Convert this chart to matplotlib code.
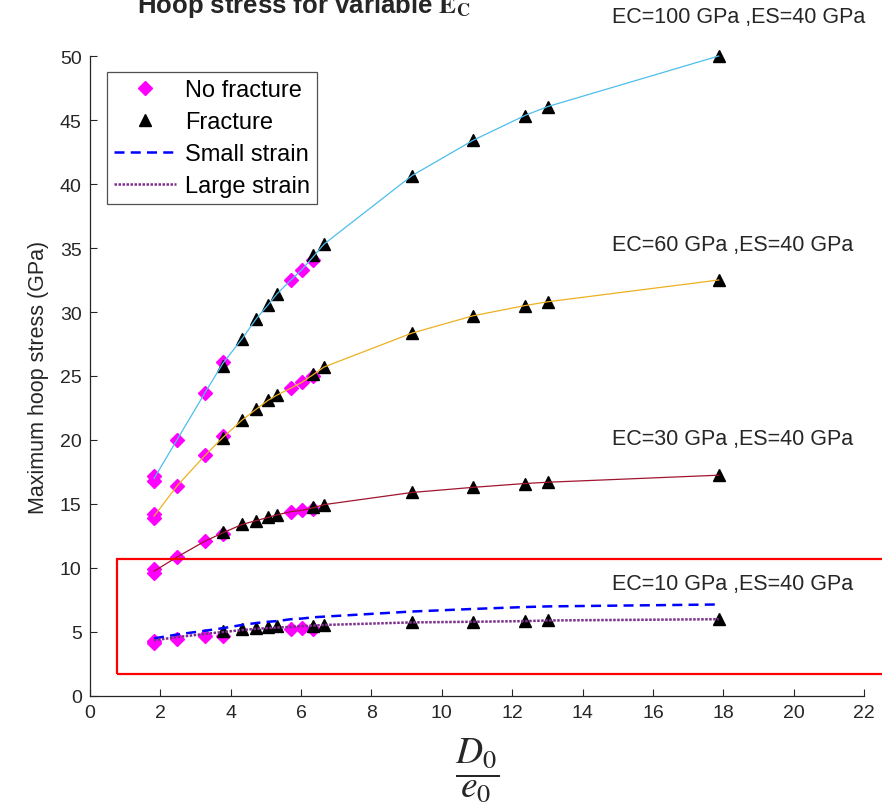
import numpy as np
import matplotlib
matplotlib.use("Agg")
import matplotlib.pyplot as plt
from matplotlib.patches import Rectangle

plt.rcParams['font.family'] = ['Liberation Sans', 'DejaVu Sans']
plt.rcParams['mathtext.fontset'] = 'stix'

# D0/e0 values of the curves
xs = [1.82, 2.47, 3.27, 3.78, 4.32, 4.72, 5.06, 5.31, 5.71, 6.02, 6.34, 6.65,
      9.15, 10.88, 12.36, 13.01, 17.87]
# x positions of the markers
nf_x = [1.82, 1.82, 2.47, 3.27, 3.78, 5.71, 6.02, 6.34]
fr_x = [3.78, 4.32, 4.72, 5.06, 5.31, 6.34, 6.65, 9.15, 10.88, 12.36, 13.01, 17.87]

# EC = 100 GPa
ec100_line = [17.0, 20.0, 23.7, 26.0, 27.9, 29.45, 30.55, 31.4, 32.5, 33.3, 34.3, 35.3,
              40.65, 43.4, 45.35, 46.05, 50.0]
ec100_nf = [16.8, 17.2, 20.0, 23.7, 26.1, 32.5, 33.3, 34.1]
ec100_fr = [25.8, 27.9, 29.45, 30.55, 31.4, 34.45, 35.3, 40.65, 43.4, 45.35, 46.05, 50.0]

# EC = 60 GPa
ec60_line = [14.05, 16.4, 18.8, 20.2, 21.55, 22.4, 23.1, 23.5, 24.05, 24.5, 25.1, 25.7,
             28.35, 29.7, 30.5, 30.8, 32.5]
ec60_nf = [13.9, 14.2, 16.4, 18.8, 20.3, 24.05, 24.5, 25.0]
ec60_fr = [20.15, 21.55, 22.4, 23.1, 23.5, 25.15, 25.7, 28.35, 29.7, 30.5, 30.8, 32.5]

# EC = 30 GPa
ec30_line = [9.75, 10.85, 12.1, 12.75, 13.4, 13.7, 13.95, 14.15, 14.4, 14.5, 14.7, 14.95,
             15.9, 16.3, 16.6, 16.7, 17.25]
ec30_nf = [9.6, 9.9, 10.85, 12.1, 12.65, 14.4, 14.5, 14.6]
ec30_fr = [12.8, 13.4, 13.7, 13.95, 14.15, 14.8, 14.95, 15.9, 16.3, 16.6, 16.7, 17.25]

# EC = 10 GPa (small / large strain)
ec10_small = [4.5, 4.8, 5.1, 5.3, 5.55, 5.7, 5.8, 5.85, 6.0, 6.05, 6.15, 6.2,
              6.6, 6.8, 6.95, 7.0, 7.15]
ec10_large = [4.35, 4.6, 4.85, 5.0, 5.15, 5.25, 5.3, 5.35, 5.4, 5.45, 5.5, 5.55,
              5.75, 5.8, 5.85, 5.9, 6.0]
ec10_nf = [4.15, 4.3, 4.45, 4.65, 4.65, 5.2, 5.3, 5.2]
ec10_fr = [5.05, 5.2, 5.35, 5.4, 5.45, 5.5, 5.55, 5.75, 5.8, 5.85, 5.9, 6.05]

labels = ["EC=100 GPa ,ES=40 GPa", "EC=60 GPa ,ES=40 GPa",
          "EC=30 GPa ,ES=40 GPa", "EC=10 GPa ,ES=40 GPa"]
label_y = [53.1, 35.3, 20.1, 8.75]

dark = '#262626'
fig = plt.figure(figsize=(8.82, 8.12), dpi=100)
ax = fig.add_axes([90/882, 1-697/812, 774/882, 640/812])

nf_kw = dict(ls='none', marker='D', ms=7, color='#ff00ff', mec='#ff00ff', clip_on=False, zorder=3)
fr_kw = dict(ls='none', marker='^', ms=9, color='black', clip_on=False, zorder=4)

for nf, fr in [(ec100_nf, ec100_fr), (ec60_nf, ec60_fr), (ec30_nf, ec30_fr), (ec10_nf, ec10_fr)]:
    ax.plot(nf_x, nf, **nf_kw)
    ax.plot(fr_x, fr, **fr_kw)

ax.plot(xs, ec100_line, color='#4dbeee', lw=0.9, zorder=5, clip_on=False)
ax.plot(xs, ec60_line, color='#edb120', lw=0.9, zorder=5)
ax.plot(xs, ec30_line, color='#a2142f', lw=0.9, zorder=5)
ax.plot(xs, ec10_small, color='#0000ff', ls=(0, (4, 2.5)), lw=1.8, zorder=5)
ax.plot(xs, ec10_large, color='#7e2f8e', ls=(0, (1, 0.6)), lw=1.8, zorder=5)

for t, y in zip(labels, label_y):
    ax.text(14.83, y, t, fontsize=15.5, color=dark, va='center', ha='left', clip_on=False)

rect = Rectangle((0.78, 1.7), 22.5, 9.0, fill=False, ec='red', lw=1.6, clip_on=False, zorder=6)
ax.add_patch(rect)

# legend proxies
h1, = ax.plot([], [], ls='none', marker='D', ms=7, color='#ff00ff')
h2, = ax.plot([], [], ls='none', marker='^', ms=9, color='black')
h3, = ax.plot([], [], color='#0000ff', ls=(0, (4, 2.5)), lw=1.8)
h4, = ax.plot([], [], color='#7e2f8e', ls=(0, (1, 0.6)), lw=1.8)
leg = ax.legend([h1, h2, h3, h4], ["No fracture", "Fracture", "Small strain", "Large strain"],
                loc='upper left', bbox_to_anchor=(0.022, 0.975), borderaxespad=0,
                fontsize=17, frameon=True, fancybox=False, handlelength=2.6,
                handletextpad=0.4, labelspacing=0.42, borderpad=0.3)
leg.get_frame().set_edgecolor(dark)
leg.get_frame().set_linewidth(0.9)

ax.set_xlim(0, 22)
ax.set_ylim(0, 50)
ax.set_xticks(np.arange(0, 23, 2))
ax.set_yticks(np.arange(0, 51, 5))
ax.tick_params(direction='in', length=5, width=0.8, labelsize=14, colors=dark, pad=6)
for s in ['top', 'right']:
    ax.spines[s].set_visible(False)
for s in ['left', 'bottom']:
    ax.spines[s].set_color(dark)
    ax.spines[s].set_linewidth(0.9)

ax.set_ylabel("Maximum hoop stress (GPa)", fontsize=15.5, color=dark, labelpad=8)
ax.set_xlabel(r"$\dfrac{D_0}{e_0}$", fontsize=27, color=dark, labelpad=10)

fig.text(0.345, 1.0 - 13/812, r"Hoop stress for variable $\mathbf{E_C}$", fontsize=18.5,
         fontweight='bold', color=dark, ha='center', va='baseline')

fig.savefig("out.png", dpi=100)
